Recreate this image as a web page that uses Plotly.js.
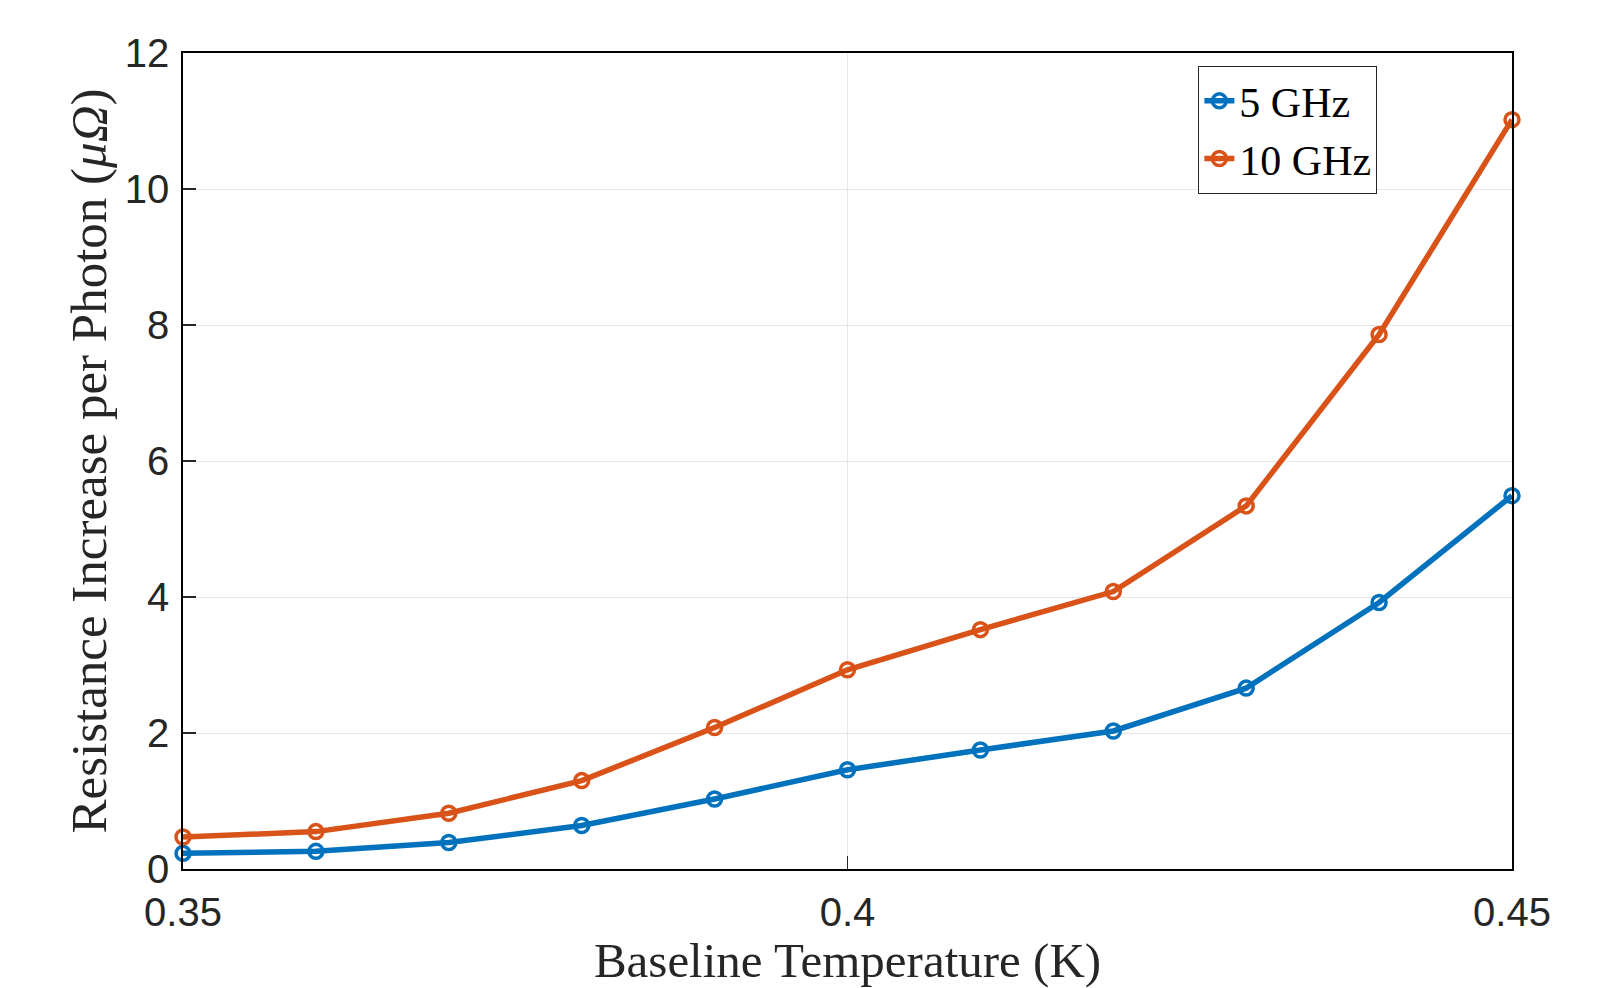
<!DOCTYPE html>
<html>
<head>
<meta charset="utf-8">
<script src="https://cdn.plot.ly/plotly-3.0.1.min.js"></script>
<style>
  html, body { margin: 0; padding: 0; background: #fff; }
  #chart { width: 1614px; height: 988px; }
</style>
</head>
<body>
<div id="chart"></div>
<script>
// baseline temperature (K)
const temps = [0.35, 0.36, 0.37, 0.38, 0.39, 0.40, 0.41, 0.42, 0.43, 0.44, 0.45];
// resistance increase per photon (micro-ohm)
const r5GHz  = [0.23, 0.26, 0.39, 0.64, 1.03, 1.46, 1.75, 2.03, 2.66, 3.92, 5.49];
const r10GHz = [0.47, 0.55, 0.82, 1.30, 2.08, 2.93, 3.52, 4.08, 5.34, 7.86, 11.02];
const seriesNames = ["5 GHz", "10 GHz"];
const xTicks = [0.35, 0.4, 0.45];
const xTickText = ["0.35", "0.4", "0.45"];
const yTicks = [0, 2, 4, 6, 8, 10, 12];

const serif = "Liberation Serif, DejaVu Serif, serif";
const sans = "Liberation Sans, Arial, sans-serif";

function series(y, name, color) {
  return {
    x: temps, y, name, type: "scatter", mode: "lines+markers",
    line: {color, width: 5.5},
    marker: {symbol: "circle-open", size: 14, color, line: {color, width: 3.5}},
    cliponaxis: false
  };
}

const traces = [
  series(r5GHz, seriesNames[0], "#0072BD"),
  series(r10GHz, seriesNames[1], "#D95319")
];

const axisCommon = {
  showline: true, linecolor: "#000", linewidth: 1.8, mirror: true,
  ticks: "inside", ticklen: 13, tickwidth: 1.2, tickcolor: "#262626",
  showgrid: true, gridcolor: "#e6e6e6", gridwidth: 1,
  zeroline: false,
  tickfont: {family: sans, size: 40, color: "#262626"}
};

const layout = {
  width: 1614, height: 988,
  margin: {l: 183, r: 102, t: 53, b: 119},
  paper_bgcolor: "#fff", plot_bgcolor: "#fff",
  showlegend: true,
  legend: {
    x: 0.764, y: 0.984, xanchor: "left", yanchor: "top",
    bgcolor: "#fff", bordercolor: "#262626", borderwidth: 1,
    font: {family: serif, size: 42, color: "#000"},
    itemwidth: 30, tracegroupgap: 0
  },
  xaxis: Object.assign({}, axisCommon, {
    range: [0.35, 0.45], tickmode: "array", tickvals: xTicks, ticktext: xTickText,
    ticklabelstandoff: 7,
    title: {text: "Baseline Temperature (K)", standoff: 6,
            font: {family: serif, size: 49, color: "#262626"}}
  }),
  yaxis: Object.assign({}, axisCommon, {
    range: [0, 12], tickmode: "array", tickvals: yTicks,
    ticklabelstandoff: 4,
    title: {text: "Resistance Increase per Photon (<i>μΩ</i>)", standoff: 2,
            font: {family: serif, size: 51, color: "#262626"}}
  })
};

Plotly.newPlot("chart", traces, layout, {displayModeBar: false, staticPlot: true});
</script>
</body>
</html>
